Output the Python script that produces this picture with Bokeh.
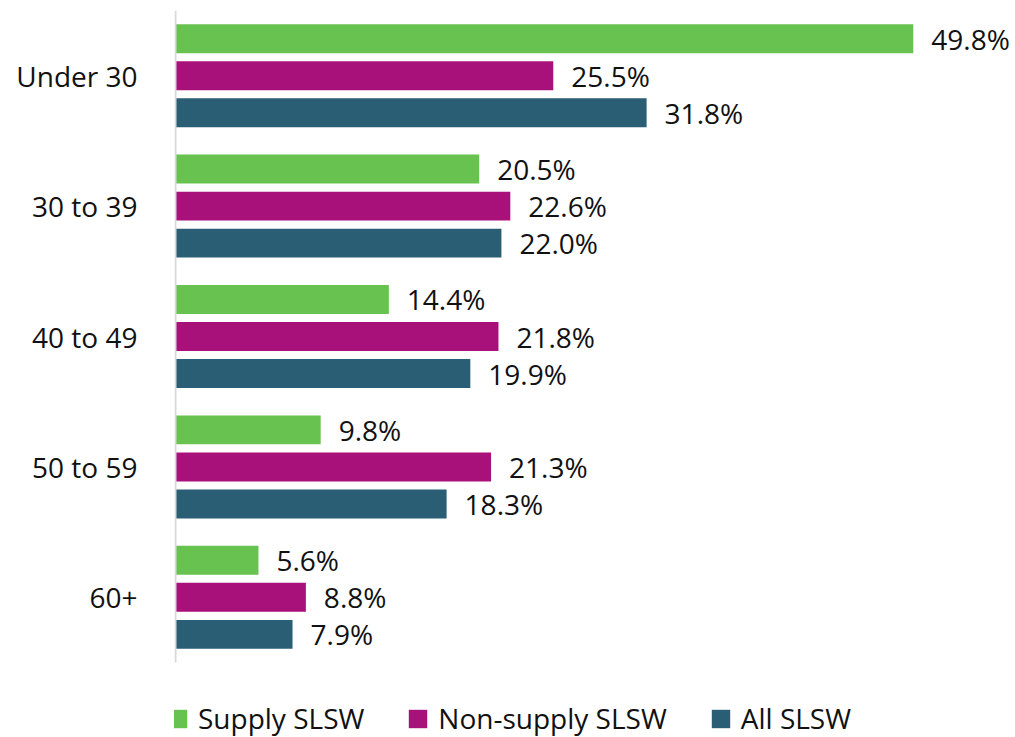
from bokeh.plotting import figure
from bokeh.models import ColumnDataSource, Range1d, Legend, LegendItem, FixedTicker
from bokeh.core.properties import value
from bokeh.embed import file_html
from bokeh.resources import INLINE

categories = ["Under 30", "30 to 39", "40 to 49", "50 to 59", "60+"]
supply = [49.8, 20.5, 14.4, 9.8, 5.6]
non_supply = [25.5, 22.6, 21.8, 21.3, 8.8]
all_slsw = [31.8, 22.0, 19.9, 18.3, 7.9]
series_names = ["Supply SLSW", "Non-supply SLSW", "All SLSW"]
colors = ["#68C250", "#A8107A", "#2A5E74"]

FONT = "Open Sans"
n = len(categories)
ypos = [n - 1 - i for i in range(n)]  # Under 30 on top

p = figure(width=1015, height=737, output_backend="svg", toolbar_location=None,
           y_range=Range1d(-1.075, n - 0.5),
           x_range=Range1d(-0.0676, 56.7),
           min_border_left=174, min_border_top=10, min_border_bottom=0, min_border_right=0)

offsets = [0.284, 0.0, -0.284]
series = [supply, non_supply, all_slsw]
renderers = []
for vals, off, c in zip(series, offsets, colors):
    src = ColumnDataSource(dict(y=[y + off for y in ypos], x=vals,
                                lbl=[f"{v:.1f}%" for v in vals]))
    r = p.hbar(y="y", right="x", left=0, height=0.222, source=src,
               fill_color=c, line_color=None)
    renderers.append(r)
    p.text(x="x", y="y", text="lbl", source=src,
           x_offset=18, text_align="left", text_baseline="middle",
           text_font=value(FONT), text_font_size="28px", text_color="#111111")

# category axis line
p.segment(x0=[0], y0=[-0.5], x1=[0], y1=[n - 0.5], line_color="#D9D9D9", line_width=2)

legend = Legend(items=[LegendItem(label=s, renderers=[r]) for s, r in zip(series_names, renderers)],
                orientation="horizontal", location=(-8, 0),
                label_text_font=FONT, label_text_font_size="28px", label_text_color="#111111",
                glyph_width=23, glyph_height=23, label_standoff=9, spacing=42,
                padding=0, margin=0, border_line_color=None, background_fill_alpha=0)
p.add_layout(legend, "center")

p.xaxis.visible = False
p.xgrid.visible = False
p.ygrid.visible = False
p.outline_line_color = None
p.yaxis.ticker = FixedTicker(ticks=ypos)
p.yaxis.major_label_overrides = {y: c for y, c in zip(ypos, categories)}
p.yaxis.axis_line_color = None
p.yaxis.major_tick_line_color = None
p.yaxis.minor_tick_line_color = None
p.yaxis.major_label_standoff = 31
p.yaxis.major_label_text_font = FONT
p.yaxis.major_label_text_font_size = "28px"
p.yaxis.major_label_text_color = "#111111"

open("out.html", "w").write(file_html(p, INLINE))
